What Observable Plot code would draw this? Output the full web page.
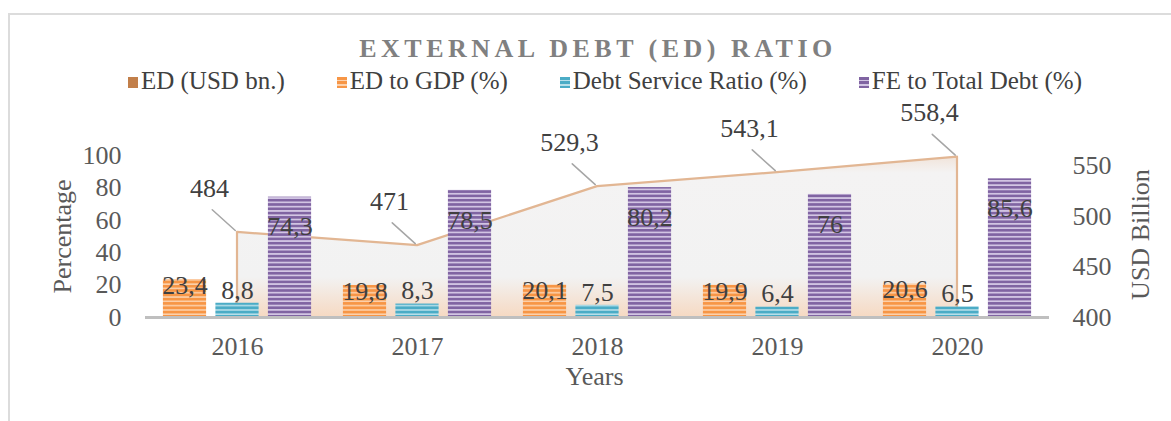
<!DOCTYPE html>
<html><head><meta charset="utf-8">
<script src="https://cdn.jsdelivr.net/npm/d3@7"></script>
<script src="https://cdn.jsdelivr.net/npm/@observablehq/plot@0.6"></script>
<style>
body{margin:0;width:1171px;height:421px;overflow:hidden;background:#fff;font-family:"Liberation Serif","Times New Roman",serif;position:relative}
#frame{position:absolute;left:8px;top:13px;width:1200px;height:450px;border:2px solid #dcdcdc;box-sizing:border-box}
#title{position:absolute;left:0;width:1196px;top:34px;text-align:center;font-weight:bold;font-size:26px;letter-spacing:4.5px;color:#808080;line-height:30px;white-space:nowrap}
#legend{position:absolute;top:67px;left:0;width:1210px;display:flex;justify-content:center;gap:52px;font-size:25px;color:#404040;line-height:28px;white-space:nowrap}
.item{display:flex;align-items:center}
.sw{width:10px;height:11px;margin-right:3px;margin-top:2px}
#chart{position:absolute;left:0;top:100px}
#chart svg{font-family:"Liberation Serif","Times New Roman",serif;font-size:26px;background:transparent;overflow:visible;color:#595959}
</style></head>
<body>
<svg width="0" height="0" style="position:absolute">
<defs>
<pattern id="pOrange" patternUnits="userSpaceOnUse" width="8" height="4.3">
<rect width="8" height="4.3" fill="#f79646"/><rect y="2.8" width="8" height="1.5" fill="#fcd2ae"/>
</pattern>
<pattern id="pBlue" patternUnits="userSpaceOnUse" width="8" height="4.3">
<rect width="8" height="4.3" fill="#4bacc6"/><rect y="2.8" width="8" height="1.5" fill="#b9e0ea"/>
</pattern>
<pattern id="pPurple" patternUnits="userSpaceOnUse" width="8" height="4.3">
<rect width="8" height="4.3" fill="#8064a2"/><rect y="2.6" width="8" height="1.7" fill="#d3c6e4"/>
</pattern>
<linearGradient id="areaGrad" x1="0" y1="0" x2="0" y2="1">
<stop offset="0" stop-color="#f1e4da"/>
<stop offset="0.1" stop-color="#f4f3f3"/>
<stop offset="0.75" stop-color="#f2f2f2"/>
<stop offset="1" stop-color="#f6d9c2"/>
</linearGradient>
</defs>
</svg>
<div id="frame"></div>
<div id="title">EXTERNAL DEBT (ED) RATIO</div>
<div id="legend"></div>
<div id="chart"></div>
<script>
const years = ["2016", "2017", "2018", "2019", "2020"];
const edUsd = [484, 471, 529.3, 543.1, 558.4];
const edToGdp = [23.4, 19.8, 20.1, 19.9, 20.6];
const debtService = [8.8, 8.3, 7.5, 6.4, 6.5];
const feToDebt = [74.3, 78.5, 80.2, 76, 85.6];
const leftTicks = [0, 20, 40, 60, 80, 100];
const rightTicks = [400, 450, 500, 550];
const rightDomain = [400, 560];
const seriesNames = ["ED (USD bn.)", "ED to GDP (%)", "Debt Service Ratio (%)", "FE to Total Debt (%)"];

const toLeft = v => (v - rightDomain[0]) / (rightDomain[1] - rightDomain[0]) * 100;
const fromLeft = p => rightDomain[0] + p / 100 * (rightDomain[1] - rightDomain[0]);
const fmt = v => String(v).replace(".", ",");

const data = years.map((year, i) => ({year, ed: edUsd[i], gdp: edToGdp[i], dsr: debtService[i], fe: feToDebt[i]}));

// legend
const swatches = [
  "background:#c27f4a",
  "background:repeating-linear-gradient(#f79646 0 2.8px,#fcd2ae 2.8px 4.3px)",
  "background:repeating-linear-gradient(#4bacc6 0 2.8px,#b9e0ea 2.8px 4.3px)",
  "background:repeating-linear-gradient(#8064a2 0 2.6px,#d3c6e4 2.6px 4.3px)"
];
document.getElementById("legend").innerHTML = seriesNames.map((n, i) =>
  `<div class="item"><div class="sw" style="${swatches[i]}"></div><span>${n}</span></div>`).join("");

const leader = {draw(c, l) { c.moveTo(0, -3); c.lineTo(0, -l); }};
const step = 52.5, inset = 68.4;

const chart = Plot.plot({
  width: 1171, height: 321,
  marginLeft: 145, marginRight: 122, marginTop: 55, marginBottom: 104,
  x: {type: "band", domain: years, padding: 0, label: null},
  y: {domain: [0, 100], label: null},
  marks: [
    Plot.areaY(data, {x: "year", y1: 0, y2: d => toLeft(d.ed), fill: "url(#areaGrad)", stroke: "#e2b693", strokeWidth: 2.2}),
    Plot.barY(data, {x: "year", y: "gdp", dx: -step, insetLeft: inset, insetRight: inset, fill: "url(#pOrange)"}),
    Plot.barY(data, {x: "year", y: "dsr", insetLeft: inset, insetRight: inset, fill: "url(#pBlue)"}),
    Plot.barY(data, {x: "year", y: "fe", dx: step, insetLeft: inset, insetRight: inset, fill: "url(#pPurple)"}),
    Plot.ruleY([0], {stroke: "#bfbfbf", strokeWidth: 3}),
    Plot.axisX({tickSize: 0, tickPadding: 19, label: null}),
    Plot.axisY({ticks: leftTicks, anchor: "left", tickSize: 0, tickPadding: 24, label: null}),
    Plot.axisY({ticks: rightTicks.map(toLeft), anchor: "right", tickSize: 0, tickPadding: 23, label: null,
      tickFormat: p => String(Math.round(fromLeft(p)))}),
    Plot.text(["Percentage"], {frameAnchor: "left", textAnchor: "middle", rotate: -90, dx: -83, fill: "#595959"}),
    Plot.text(["USD Billion"], {frameAnchor: "right", textAnchor: "middle", rotate: -90, dx: 91, dy: -2, fill: "#595959"}),
    Plot.text(["Years"], {frameAnchor: "bottom", dy: 67, dx: -3, fill: "#595959"}),
    Plot.text(data, {x: "year", y: "gdp", text: d => fmt(d.gdp), dx: -step, dy: 6, fill: "#404040"}),
    Plot.text(data, {x: "year", y: "dsr", text: d => fmt(d.dsr), dy: -13, fill: "#404040"}),
    Plot.text(data, {x: "year", y: "fe", text: d => fmt(d.fe), dx: step, dy: 30, fill: "#404040"}),
    Plot.vector(data, {x: "year", y: d => toLeft(d.ed), length: 34, rotate: -48, anchor: "start", shape: leader, stroke: "#a6a6a6", strokeWidth: 1.5}),
    Plot.text(data, {x: "year", y: d => toLeft(d.ed), text: d => fmt(d.ed), dx: -28, dy: -44, fill: "#404040"})
  ]
});
document.getElementById("chart").appendChild(chart);
</script>
</body></html>
